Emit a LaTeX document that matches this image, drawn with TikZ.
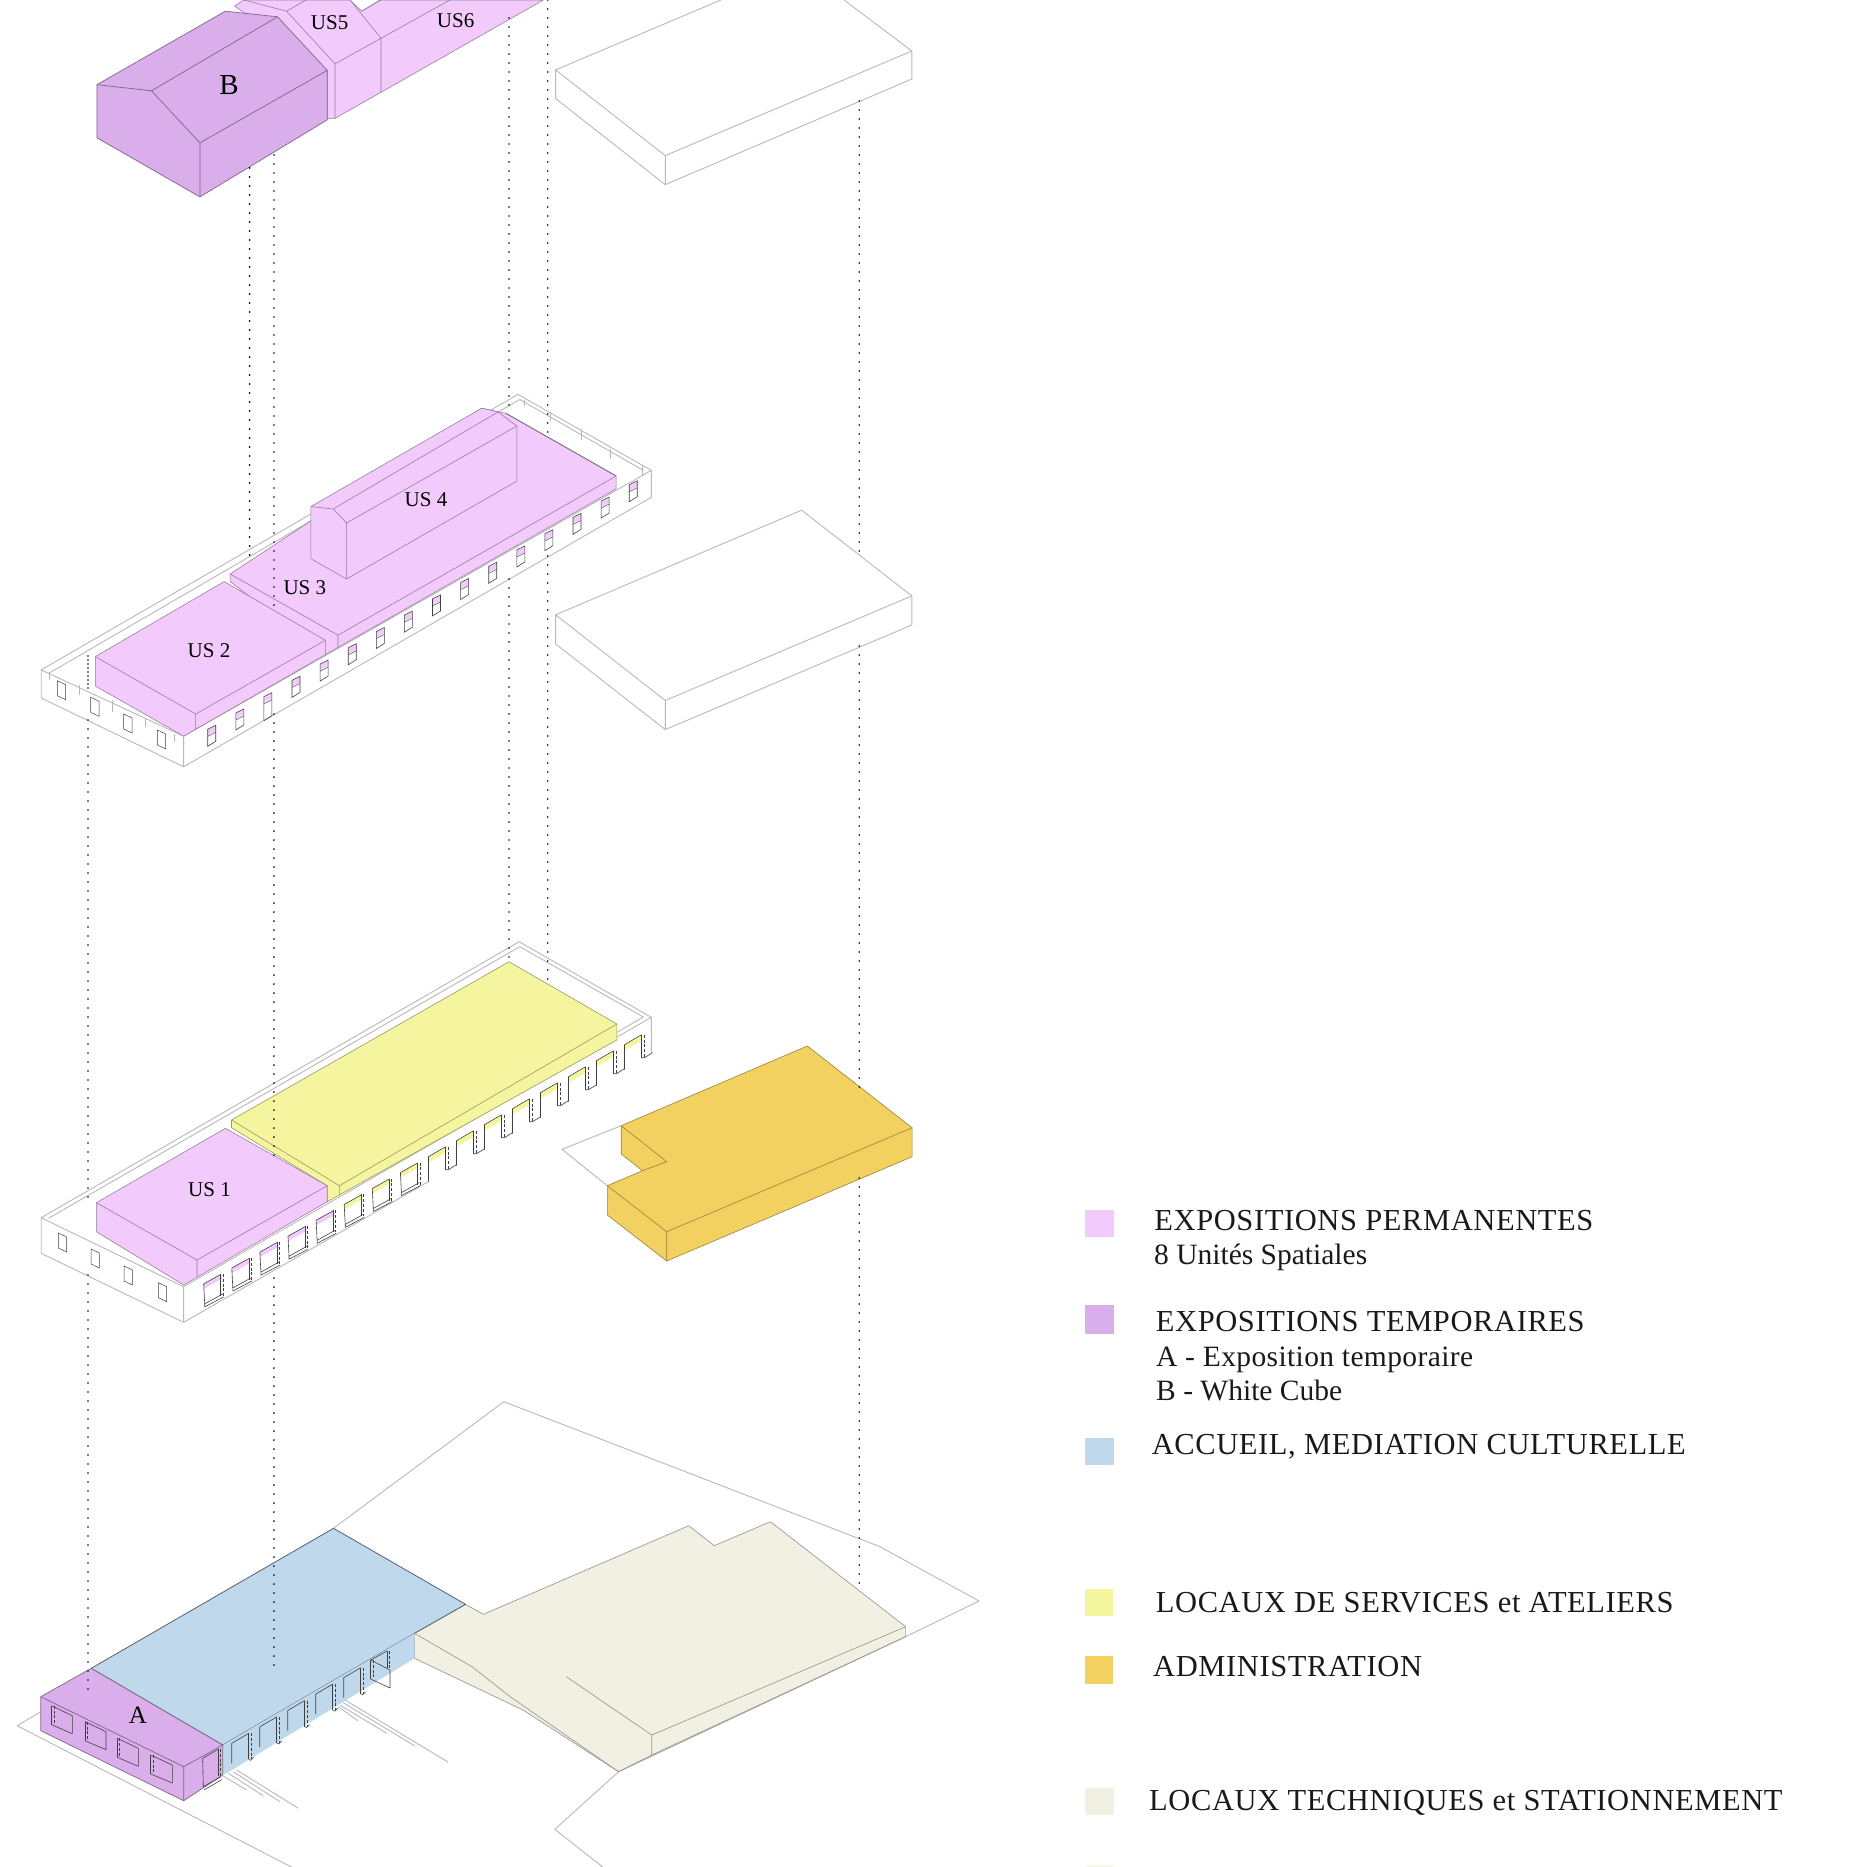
\documentclass[tikz,border=0pt]{standalone}
\usepackage{fontspec}
\setmainfont{Liberation Serif}
\definecolor{cpink}{HTML}{F2CBFC}
\definecolor{cpurple}{HTML}{D9AEEA}
\definecolor{cblue}{HTML}{BFD8EC}
\definecolor{cyellow}{HTML}{F5F5A0}
\definecolor{cgold}{HTML}{F2D160}
\definecolor{cbeige}{HTML}{F2EFE3}
\definecolor{cpale}{HTML}{F7F8E8}
\tikzset{
 ghost/.style={draw=black!28,line width=0.9pt,line join=round},
 thinwin/.style={draw=black!75,line width=0.6pt},
 pinkbox/.style={fill=cpink,draw=cpink!60!black,line width=0.55pt,line join=round},
 pinkline/.style={draw=cpink!60!black,line width=0.55pt},
 purplebox/.style={fill=cpurple,draw=cpurple!58!black,line width=0.7pt,line join=round},
 purpleline/.style={draw=cpurple!58!black,line width=0.7pt},
 yellowbox/.style={fill=cyellow,draw=cyellow!62!black,line width=0.6pt,line join=round},
 yellowline/.style={draw=cyellow!62!black,line width=0.6pt},
 goldbox/.style={fill=cgold,draw=cgold!62!black,line width=0.6pt,line join=round},
 goldline/.style={draw=cgold!62!black,line width=0.6pt},
 bluebox/.style={fill=cblue,draw=cblue!45!black,line width=0.8pt,line join=round},
 beigebox/.style={fill=cbeige,draw=cbeige!65!black,line width=0.7pt,line join=round},
 beigeline/.style={draw=cbeige!65!black,line width=0.7pt},
 dots/.style={draw=black,line width=1.8pt,line cap=round,dash pattern=on 0pt off 9pt},
 densedots/.style={draw=black,line width=1.7pt,line cap=round,dash pattern=on 0pt off 4pt},
 lbl/.style={font=\fontsize{21}{21}\selectfont,inner sep=0pt,text=black},
 leg/.style={font=\fontsize{29.5}{30}\selectfont,inner sep=0pt,anchor=base west,text=black!90},
 legcaps/.style={font=\fontsize{30.5}{31}\selectfont\addfontfeature{LetterSpace=2},inner sep=0pt,anchor=base west,text=black!90},
}
% thin left-face window
\newcommand\lwin[2]{\draw[thinwin,line width=0.5pt] (#1,#2)--(#1+8.4,#2+4)--(#1+8.4,#2+19)--(#1,#2+15)--cycle;}
% jagged jamb
\newcommand\jagg[3]{\draw[thinwin] (#1,#2)--(#1,#3);
 \draw[thinwin,line width=1pt,dash pattern=on 3pt off 1.8pt] (#1+2.6,#2)--(#1+2.6,#3);}
% floor 2 slim window on the long side
\newcommand\slim[4]{\fill[#4] (#1,#2)--(#1+8,#2-4)--(#1+8,#2+2)--(#1,#2+6)--cycle;
 \draw[thinwin] (#1,#2)--(#1+8,#2-4)--(#1+8,#2+12+#3)--(#1,#2+17+#3)--cycle;
 \draw[thinwin,line width=0.4pt] (#1,#2+7)--(#1+8,#2+3);}
% floor 1 closed window
\newcommand\fwin[3]{\fill[#3] (#1,#2)--(#1+18,#2-10)--(#1+18,#2-5)--(#1,#2+5)--cycle;
 \draw[thinwin] (#1,#2)--(#1+17,#2-9.5) (#1,#2)--(#1+1,#2+20)--(#1+19,#2+10) (#1+1,#2+23)--(#1+20,#2+13) (#1+1,#2+20)--(#1+1,#2+23);
 \jagg{#1+17}{#2-10}{#2+12}}
% floor 1 open bay
\newcommand\obay[2]{\fill[cyellow] (#1,#2)--(#1+17,#2-10)--(#1+17,#2-4)--(#1,#2+6)--cycle;
 \draw[thinwin] (#1,#2)--(#1,#2+25) (#1,#2)--(#1+17,#2-10) (#1+17,#2+13)--(#1+20,#2+13)--(#1+28,#2+8);
 \jagg{#1+17}{#2-10}{#2+13}}
% ground open bay
\newcommand\gbay[2]{\draw[thinwin] (#1,#2)--(#1,#2+20) (#1,#2)--(#1+17,#2-10) (#1+17,#2+16)--(#1+19,#2+17)--(#1+22,#2+14);
 \jagg{#1+17}{#2-10}{#2+16}}
% ground front window
\newcommand\awin[4]{\draw[thinwin] (#1,#2)--(#3,#2+10) (#1,#2+#4-1)--(#3,#2+#4+8) (#3,#2+10)--(#3,#2+#4+8);
 \jagg{#1}{#2}{#2+#4-1}}
\begin{document}
\begin{tikzpicture}[x=1pt,y=-1pt]
\useasboundingbox (0,0) rectangle (1867,1867);
\clip (0,0) rectangle (1867,1867);

% ---------- top level: white box
\draw[ghost] (555.6,69.9)--(721,0) (844,0)--(911.8,51)--(665.3,155.6)--(555.6,69.9)--(555.6,98.5)--(665.3,184.7)--(911.8,79)--(911.8,51) (665.3,155.6)--(665.3,184.7);
% ---------- US5 / US6
\path[pinkbox] (234.5,6.1)--(243.6,0)--(350,0)--(361.7,11.2)--(380,0)--(543.5,0)--(335,118.4)--(327.2,118.4)--(327.2,70)--cycle;
\draw[pinkline] (243.6,0)--(286.6,11.2)--(335,63.8)--(381,38.3)--(450,0) (286.6,11.2)--(306,0) (335,63.8)--(335,118.4) (381,38.3)--(381,91.8) (350,0)--(381,38.3) (361.7,11.2)--(381,0);
% ---------- building B
\path[purplebox] (96.9,84.7)--(225.4,11.2)--(277.5,16.8)--(327.2,70.4)--(327.2,119.9)--(199.9,196.9)--(96.9,137.8)--cycle;
\draw[purpleline] (96.9,84.7)--(151.5,90.8)--(199.9,142.9)--(327.2,70.4) (151.5,90.8)--(277.5,16.8) (199.9,142.9)--(199.9,196.9);

% ---------- second level: white box
\draw[ghost] (555.6,614.8)--(801.6,510.2)--(911.8,595.9)--(665.3,700.5)--cycle (555.6,614.8)--(555.6,643.9)--(665.3,729.6)--(911.8,625)--(911.8,595.9) (665.3,700.5)--(665.3,729.6);

% ---------- second level: frame
\draw[ghost] (41.2,669.9)--(518,394.4)--(651.3,470.4)--(651.3,497.4)--(183.6,766.8)--(41.2,698)--cycle (41.2,669.9)--(183.6,736.2)--(651.3,470.4) (183.6,736.2)--(183.6,766.8);
\draw[ghost] (48.5,673.5)--(519.8,399.5)--(643.4,470.4);
\draw[ghost,line width=0.8pt] (524,399.5)--(524,405.6) (550,412)--(550,421) (581.6,428.6)--(581.6,439.8) (610.7,449)--(610.7,459) (642,465)--(642,474.5);
\draw[ghost,line width=0.8pt] (49,672)--(49,680) (79,685)--(79,695) (112,700)--(112,712) (145,719)--(145,727) (174,734)--(174,742);
% pink blocks
\path[pinkbox] (230.2,574)--(481.7,408.2)--(505.9,413.3)--(616.2,476)--(616.2,488.8)--(325.4,654.6)--(230.2,581.6)--cycle;
\draw[pinkline] (230.2,574)--(338,635.2)--(616.2,476) (338,635.2)--(338,648);
\path[pinkbox] (95.3,656.6)--(224.2,581.6)--(325.4,640.3)--(325.4,654.6)--(183.6,736.2)--(95.3,686)--cycle;
\draw[pinkline] (95.3,656.6)--(195.7,714)--(325.4,640.3) (195.7,714)--(195.7,729);
\path[pinkbox] (310.8,506.6)--(481.7,408.2)--(498,412)--(516.8,426)--(516.8,481.1)--(346.6,579)--(310.8,558.7)--cycle;
\draw[pinkline] (310.8,506.6)--(333.2,509)--(346.6,523)--(516.8,426) (333.2,509)--(498,412) (346.6,523)--(346.6,579);
\draw[black!55,line width=0.8pt] (505.9,413.3)--(616.2,476);
% slim windows
\foreach \k in {0,...,15}{
 \pgfmathsetmacro\wx{207.7+28.1*\k}
 \pgfmathsetmacro\wy{729.3-16.3*\k}
 \pgfmathsetmacro\wt{\k==2?7:0}
 \slim{\wx}{\wy}{\wt}{cpink}
}
\lwin{57.3}{680.7}\lwin{90.7}{697.3}\lwin{123.7}{714}\lwin{157.3}{730}

% ---------- first level: frame
\draw[ghost] (41.2,1217.7)--(519.2,941.7)--(651.3,1017.3)--(183.6,1286.7)--cycle (41.2,1217.7)--(41.2,1253.3)--(183.6,1322.3)--(428.3,1181.7) (183.6,1286.7)--(183.6,1322.3) (651.3,1017.3)--(651.3,1053);
\draw[ghost] (48.5,1218.3)--(519.8,946.7)--(643.4,1017)--(186,1281);
\path[yellowbox] (231.5,1120)--(509,961.7)--(616.8,1024)--(616.8,1040)--(327.2,1201.7)--(327.2,1185.7)--(231.5,1127.7)--cycle;
\draw[yellowline] (231.5,1120)--(339.4,1185.7)--(616.8,1024) (339.4,1185.7)--(339.4,1195);
\path[pinkbox] (96.4,1202.7)--(225.4,1128.3)--(327.2,1185.7)--(327.2,1201.7)--(183.6,1285)--(96.4,1231.7)--cycle;
\draw[pinkline] (96.4,1202.7)--(197,1260)--(327.2,1185.7) (197,1260)--(197,1276.7);
\foreach \k in {1,...,8}{
 \pgfmathsetmacro\wx{428.5-28.1*\k}
 \pgfmathsetmacro\wy{1156.7+15.9*\k}
 \pgfmathparse{\k<4?"cyellow":"cpink"}\edef\wc{\pgfmathresult}
 \fwin{\wx}{\wy}{\wc}
}
\foreach \k in {0,...,7}{
 \pgfmathsetmacro\wx{428.5+28*\k}
 \pgfmathsetmacro\wy{1156.7-16*\k}
 \obay{\wx}{\wy}
}
\lwin{58.3}{1233}\lwin{91}{1249}\lwin{124}{1266}\lwin{158.3}{1282.7}
% ---------- administration
\draw[ghost] (621.2,1125.7)--(562,1149.3)--(607.3,1185.7);
\path[goldbox] (621.2,1125.7)--(807.3,1046)--(912.1,1127.7)--(912.1,1156.7)--(666.7,1261)--(607.3,1215)--(607.3,1185.7)--(642.4,1170.7)--(621.2,1154)--cycle;
\draw[goldline] (621.2,1125.7)--(666.7,1161.7)--(642.4,1170.7) (607.3,1185.7)--(666.7,1231.7)--(912.1,1127.7) (666.7,1231.7)--(666.7,1261);

% ---------- ground: site
\draw[ghost] (333.5,1528.3)--(503.8,1401.7)--(880,1546.7)--(979,1601)--(905.6,1636.7);
\draw[ghost] (40.8,1711.7)--(17.2,1725.7)--(291.5,1867);
\draw[ghost] (618.6,1771.7)--(554.8,1829.3)--(602.7,1867);
\draw[ghost] (223.3,1776)--(246.7,1790) (228.3,1773.3)--(263.3,1795.7) (233.3,1771.7)--(280,1801.7) (236.7,1770)--(298.3,1808.3);
\draw[ghost] (338.3,1706.7)--(358.3,1721) (340,1705)--(386.7,1733.3) (343.3,1702.7)--(415,1746) (345,1700)--(448,1762);
% beige
\path[beigebox] (465.6,1604.3)--(483.4,1614.3)--(688.8,1525.7)--(714.3,1545.7)--(770.4,1521.7)--(905.6,1626.7)--(905.6,1636.7)--(618.6,1771.7)--(523,1710)--(414.5,1658.3)--(414.5,1633.3)--cycle;
\draw[beigeline] (414.5,1633.3)--(472,1666.7)--(510.2,1696.7)--(618.6,1771.7) (651.8,1735)--(651.8,1755) (651.8,1735)--(905.6,1626.7) (651.8,1735)--(566.3,1676.7) (618.6,1771.7)--(651.8,1755)--(905.6,1636.7);
% blue
\path[bluebox] (91.2,1668.3)--(333.5,1528.3)--(465.6,1604.3)--(414.5,1633.3)--(222.7,1745)--cycle;
\fill[cblue] (222.7,1745)--(414.5,1633.3)--(414.5,1658.3)--(229,1771.7)--(222.7,1775)--cycle;
\foreach \k in {0,...,4}{
 \pgfmathsetmacro\wx{231.7+28*\k}
 \pgfmathsetmacro\wy{1743.3-16.4*\k}
 \gbay{\wx}{\wy}
}
\awin{370.7}{1660}{390}{20}
\draw[thinwin] (370.7,1660)--(387,1651);
\jagg{387}{1651}{1668}
% purple
\path[purplebox] (40.8,1696.7)--(91.2,1668.3)--(222.7,1745)--(222.7,1775)--(183.7,1800.7)--(40.8,1730.7)--cycle;
\draw[purpleline] (40.8,1696.7)--(183.7,1766.7)--(222.7,1745) (183.7,1766.7)--(183.7,1800.7);
\awin{51.7}{1705.7}{72.3}{20}
\awin{85}{1721.7}{106}{20}
\awin{117.3}{1738.3}{138.3}{20}
\awin{150.7}{1755}{172.3}{20}
\draw[thinwin] (202.7,1758.3)--(218,1749.3) (202.7,1758.3)--(203.3,1786.7)--(221,1776.7) (204,1790)--(222,1779.5);
\jagg{218}{1749}{1776}

% ---------- dotted verticals
\draw[densedots] (88,656)--(88,688);
\draw[dots] (88,720)--(88,1202) (88,1275)--(88,1692);
\draw[dots] (249.6,168)--(249.6,561);
\draw[dots] (273.9,155)--(273.9,610) (273.9,714)--(273.9,1156) (273.9,1278)--(273.9,1670);
\draw[dots] (509,18)--(509,408) (509,579)--(509,960);
\draw[dots] (547.7,0)--(547.7,436) (547.7,556)--(547.7,983);
\draw[dots] (859.2,101)--(859.2,556) (859.2,646)--(859.2,1090) (859.2,1178)--(859.2,1583);

% ---------- labels
\node[lbl] (us2) at (209,650.5) {US 2};
\node[lbl] (us3) at (304.8,587.8) {US 3};
\node[lbl] (us4) at (426,500) {US 4};
\node[lbl] (us5) at (329.6,23) {US5};
\node[lbl] (us6) at (455.6,20.4) {US6};
\node[lbl] (us1) at (209.5,1190) {US 1};
\node[lbl,font=\fontsize{29}{29}\selectfont] (bb) at (229,85) {B};
\node[lbl,font=\fontsize{25}{25}\selectfont] (aa) at (138,1715.5) {A};

% ---------- legend
\fill[cpink] (1085.4,1209.8) rectangle (1113.5,1237);
\fill[cpurple] (1085.4,1305.4) rectangle (1113.5,1333.5);
\fill[cblue] (1085.4,1437.5) rectangle (1113.5,1465);
\fill[cyellow] (1085.4,1588.8) rectangle (1112.5,1616.4);
\fill[cgold] (1085.4,1655.9) rectangle (1112.5,1683.5);
\fill[cbeige] (1085.4,1787.5) rectangle (1113.5,1815);
\fill[cpale] (1085.4,1865) rectangle (1113.5,1867);
\node[legcaps] (t1) at (1154.2,1230.4) {EXPOSITIONS PERMANENTES};
\node[leg] (t2) at (1154,1264.6) {8 Unités Spatiales};
\node[legcaps] (t3) at (1155.7,1331.3) {EXPOSITIONS TEMPORAIRES};
\node[leg,font=\fontsize{29.5}{30}\selectfont\addfontfeature{LetterSpace=1.3}] (t4) at (1156,1366.4) {A - Exposition temporaire};
\node[leg] (t5) at (1156,1400.2) {B - White Cube};
\node[legcaps] (t6) at (1151.6,1454.6) {ACCUEIL, MEDIATION CULTURELLE};
\node[legcaps] (t7) at (1155.7,1612.9) {LOCAUX DE SERVICES et ATELIERS};
\node[legcaps] (t8) at (1153,1676.5) {ADMINISTRATION};
\node[legcaps] (t9) at (1149,1810.3) {LOCAUX TECHNIQUES et STATIONNEMENT};
\end{tikzpicture}
\end{document}
